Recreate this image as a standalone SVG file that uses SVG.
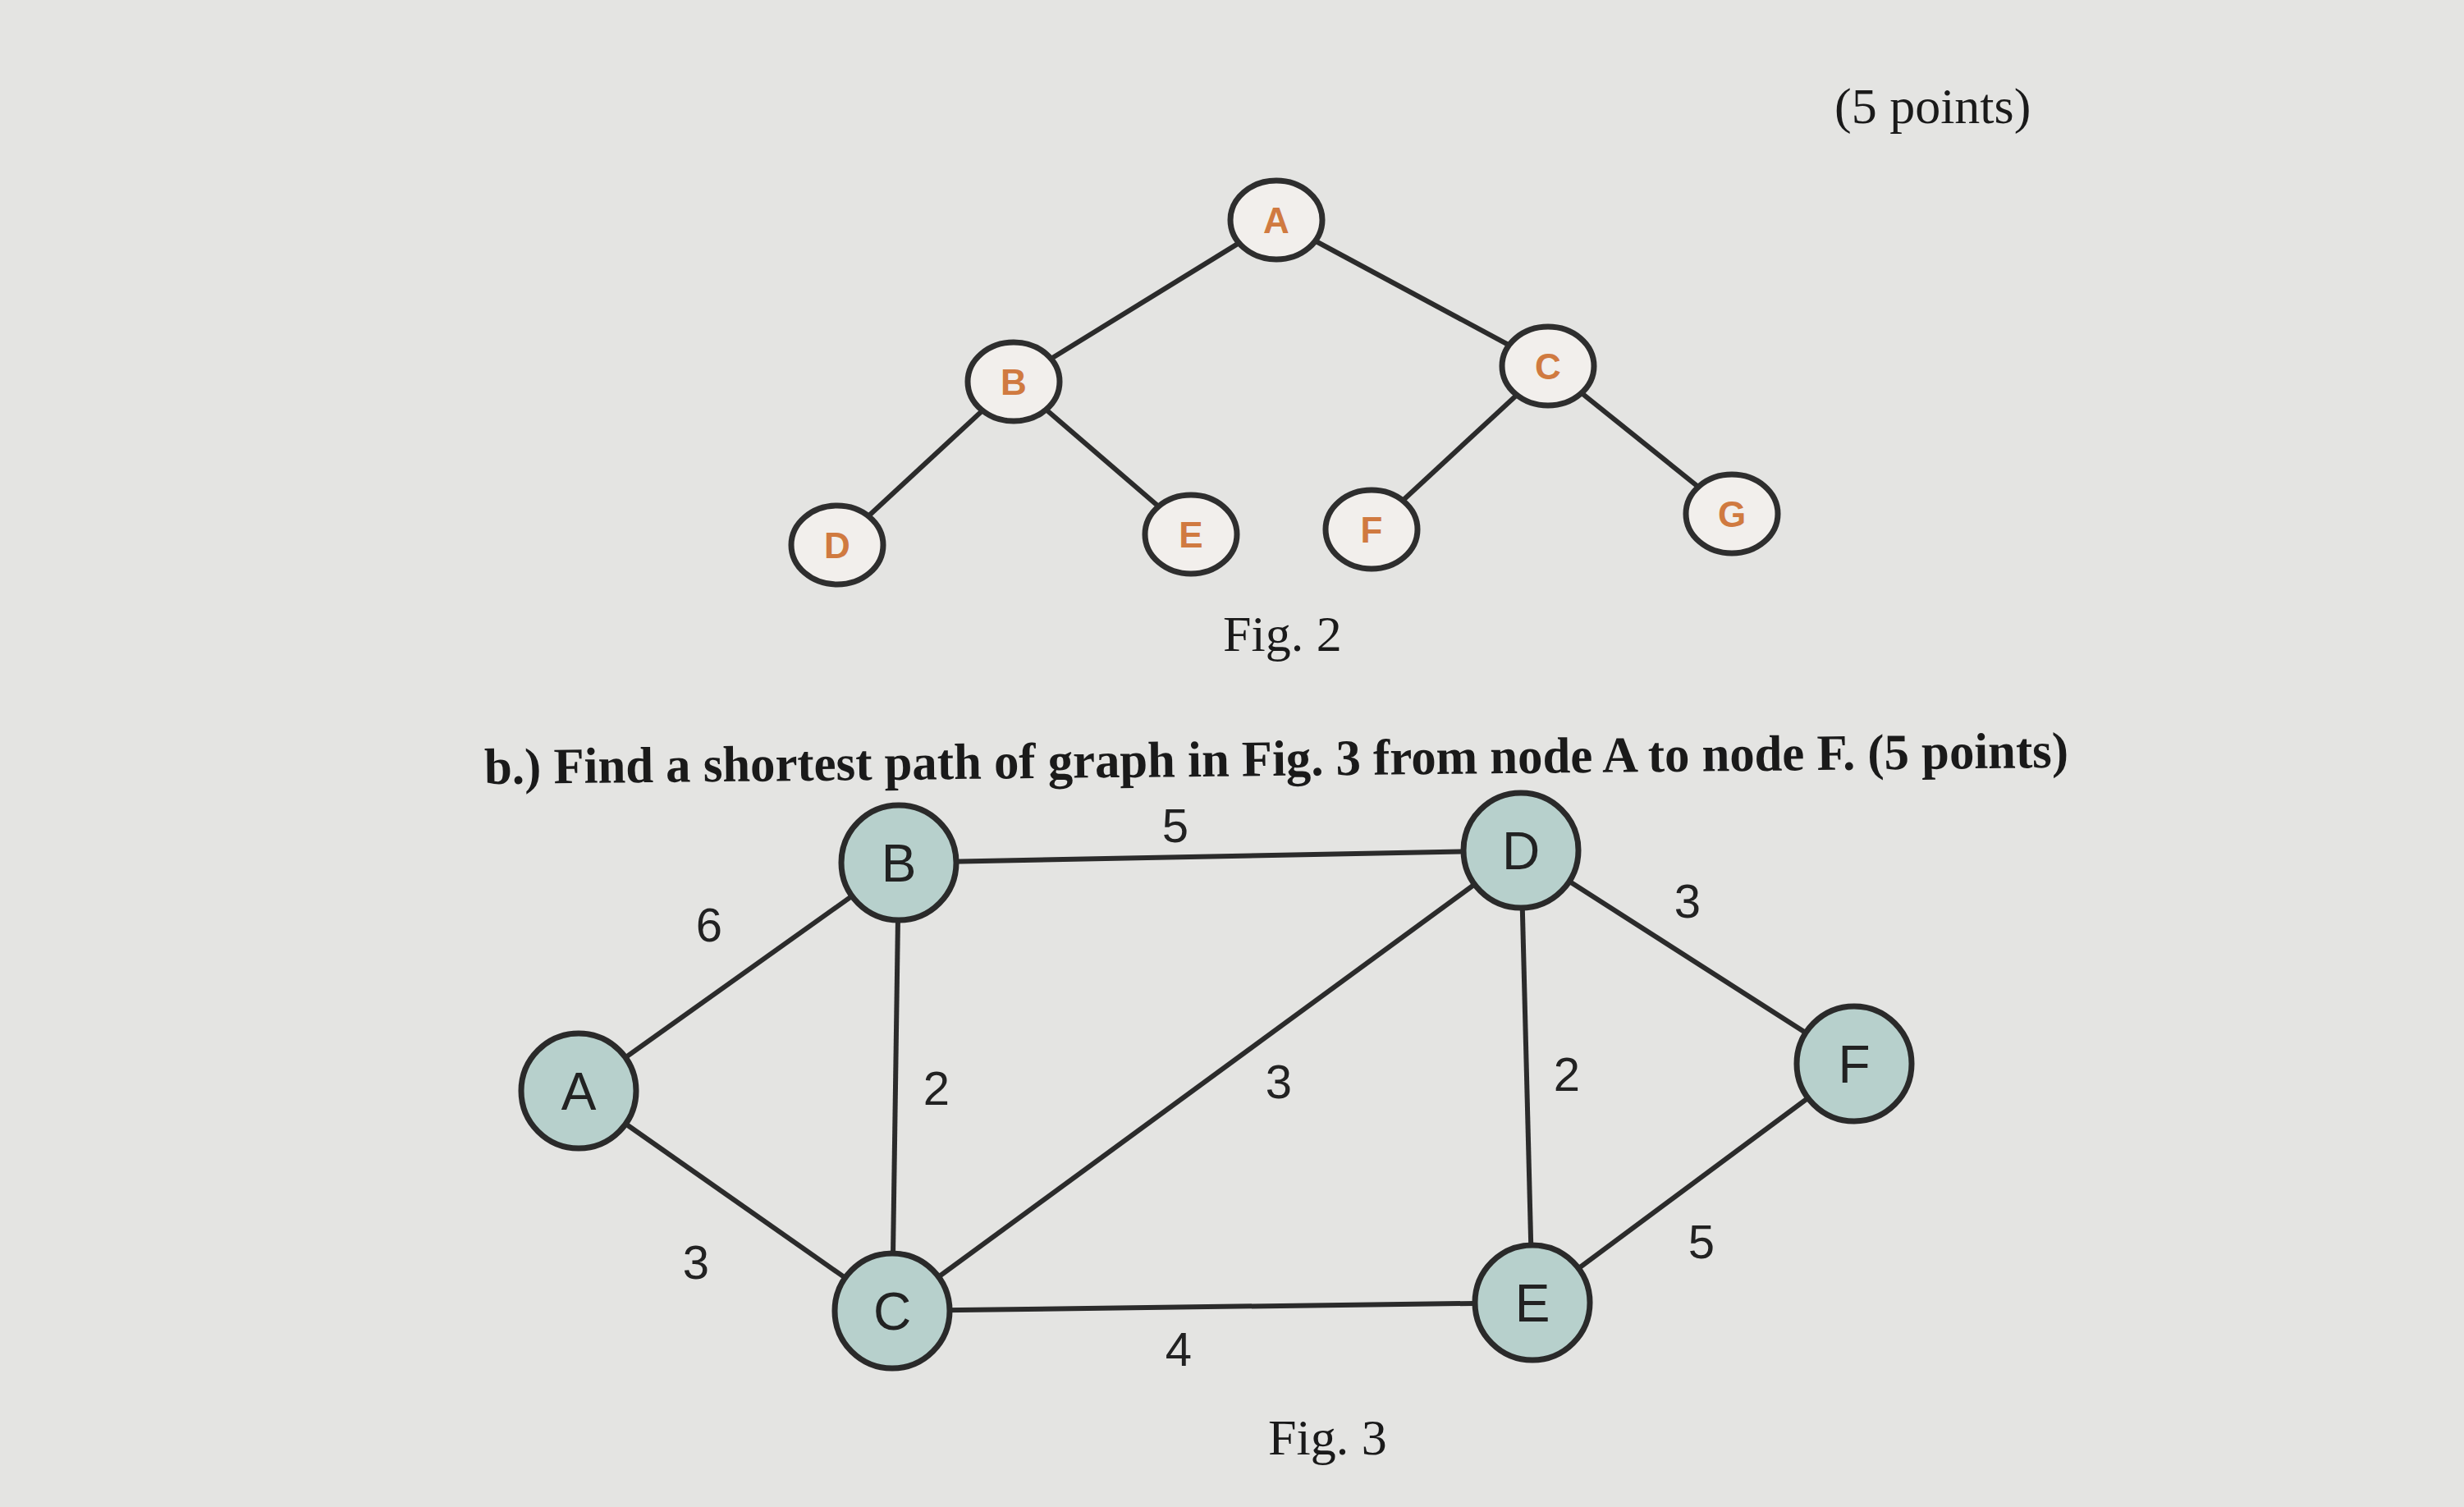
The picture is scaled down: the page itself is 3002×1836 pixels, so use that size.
<svg xmlns="http://www.w3.org/2000/svg" width="3002" height="1836" viewBox="0 0 3002 1836">
<style>
.e{stroke:#2b2b2b;stroke-width:6;fill:none}
.n2 ellipse{fill:#f2efec;stroke:#2e2e2e;stroke-width:7}
.n2 text{font-family:"Liberation Sans",sans-serif;font-weight:bold;font-size:44px;fill:#d07a40;text-anchor:middle}
.n3 circle{fill:#b7d0cc;stroke:#2a2a2a;stroke-width:7}
.n3 text{font-family:"Liberation Sans",sans-serif;font-size:64px;fill:#222;text-anchor:middle}
.w{font-family:"Liberation Sans",sans-serif;font-size:58px;fill:#222;text-anchor:middle}
.t{font-family:"Liberation Serif",serif;font-size:62px;fill:#1a1a1a}
</style>
<rect width="3002" height="1836" fill="#e4e4e2"/>
<text class="t" x="2235" y="150">(5 points)</text>
<g id="connectors">
<line class="e" x1="1555" y1="268" x2="1235" y2="465"/>
<line class="e" x1="1555" y1="268" x2="1886" y2="446"/>
<line class="e" x1="1235" y1="465" x2="1020" y2="664"/>
<line class="e" x1="1235" y1="465" x2="1451" y2="651"/>
<line class="e" x1="1886" y1="446" x2="1671" y2="645"/>
<line class="e" x1="1886" y1="446" x2="2110" y2="626"/>
<line class="e" x1="705" y1="1329" x2="1095" y2="1051"/>
<line class="e" x1="705" y1="1329" x2="1087" y2="1597"/>
<line class="e" x1="1095" y1="1051" x2="1853" y2="1036"/>
<line class="e" x1="1095" y1="1051" x2="1087" y2="1597"/>
<line class="e" x1="1087" y1="1597" x2="1853" y2="1036"/>
<line class="e" x1="1087" y1="1597" x2="1867" y2="1587"/>
<line class="e" x1="1853" y1="1036" x2="1867" y2="1587"/>
<line class="e" x1="1853" y1="1036" x2="2259" y2="1296"/>
<line class="e" x1="1867" y1="1587" x2="2259" y2="1296"/>
</g>
<g id="f2A" class="n2"><ellipse cx="1555" cy="268" rx="56" ry="48"/><text x="1555" y="284">A</text></g>
<g id="f2B" class="n2"><ellipse cx="1235" cy="465" rx="56" ry="48"/><text x="1235" y="481">B</text></g>
<g id="f2C" class="n2"><ellipse cx="1886" cy="446" rx="56" ry="48"/><text x="1886" y="462">C</text></g>
<g id="f2D" class="n2"><ellipse cx="1020" cy="664" rx="56" ry="48"/><text x="1020" y="680">D</text></g>
<g id="f2E" class="n2"><ellipse cx="1451" cy="651" rx="56" ry="48"/><text x="1451" y="667">E</text></g>
<g id="f2F" class="n2"><ellipse cx="1671" cy="645" rx="56" ry="48"/><text x="1671" y="661">F</text></g>
<g id="f2G" class="n2"><ellipse cx="2110" cy="626" rx="56" ry="48"/><text x="2110" y="642">G</text></g>
<text class="t" x="1490" y="793">Fig. 2</text>
<text class="t" x="590" y="945" font-weight="bold" textLength="1930" lengthAdjust="spacingAndGlyphs" transform="rotate(-0.6 1555 920)">b.) Find a shortest path of graph in Fig. 3 from node A to node F.   (5 points)</text>
<g id="f3A" class="n3"><circle cx="705" cy="1329" r="70"/><text x="705" y="1352">A</text></g>
<g id="f3B" class="n3"><circle cx="1095" cy="1051" r="70"/><text x="1095" y="1074">B</text></g>
<g id="f3C" class="n3"><circle cx="1087" cy="1597" r="70"/><text x="1087" y="1620">C</text></g>
<g id="f3D" class="n3"><circle cx="1853" cy="1036" r="70"/><text x="1853" y="1059">D</text></g>
<g id="f3E" class="n3"><circle cx="1867" cy="1587" r="70"/><text x="1867" y="1610">E</text></g>
<g id="f3F" class="n3"><circle cx="2259" cy="1296" r="70"/><text x="2259" y="1319">F</text></g>
<text class="w" x="864" y="1147">6</text>
<text class="w" x="1432" y="1026">5</text>
<text class="w" x="2056" y="1118">3</text>
<text class="w" x="1141" y="1346">2</text>
<text class="w" x="1558" y="1338">3</text>
<text class="w" x="1909" y="1329">2</text>
<text class="w" x="848" y="1558">3</text>
<text class="w" x="1436" y="1664">4</text>
<text class="w" x="2073" y="1533">5</text>
<text class="t" x="1545" y="1772">Fig. 3</text>
</svg>
